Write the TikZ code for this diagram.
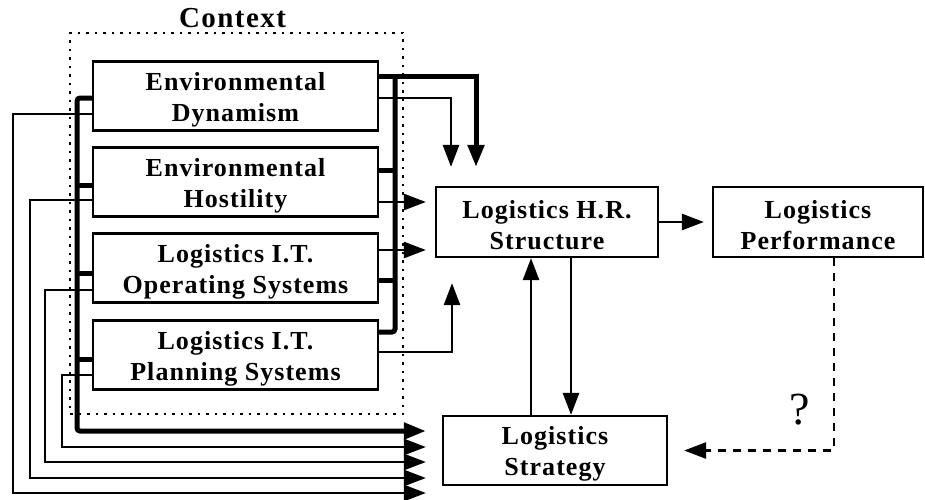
\documentclass[tikz,border=0pt]{standalone}
\usepackage{fontspec}
\setmainfont{Liberation Serif}
\newfontfamily\boxfont{Liberation Serif}[LetterSpace=4]
\newfontfamily\ctxfont{Liberation Serif}[LetterSpace=5]
\newcommand\tup{\rule{0pt}{25pt}}
\usetikzlibrary{arrows.meta}
\tikzset{
  box/.style={draw, line width=2.2pt, minimum width=285pt, minimum height=69pt, inner sep=0pt, align=center,
    font=\boxfont\bfseries\fontsize{26}{31}\selectfont},
  thinln/.style={line width=2.6pt},
  thickln/.style={line width=5pt},
  arr/.style={-{Triangle[length=22pt,width=16pt]}},
  ctxframe/.style={draw, line width=1.5pt, dash pattern=on 2.5pt off 6pt},
}
\begin{document}
\begin{tikzpicture}[x=1pt,y=-1pt]
\useasboundingbox (0,0) rectangle (925,499);
% context frame
\node[ctxframe, minimum width=333pt, minimum height=381pt, inner sep=0pt] (ctx) at (236.5,223.5) {};
\node[font=\ctxfont\bfseries\fontsize{29}{33}\selectfont, inner sep=0pt] (ctxlabel) at (232.5,18) {Context};
% boxes
\node[box] (b1) at (235.5,96) {\tup Environmental\\Dynamism};
\node[box] (b2) at (235.5,182) {\tup Environmental\\Hostility};
\node[box] (b3) at (235.5,268) {\tup Logistics I.T.\\Operating Systems};
\node[box] (b4) at (235.5,355) {\tup Logistics I.T.\\Planning Systems};
\node[box, minimum width=222pt, minimum height=70pt] (hr) at (547,222) {\tup Logistics H.R.\\Structure};
\node[box, minimum width=210pt, minimum height=70pt] (pf) at (818,222) {\tup Logistics\\Performance};
\node[box, minimum width=224pt, minimum height=69pt] (st) at (555,450.5) {\tup Logistics\\Strategy};
\node[font=\fontsize{46}{50}\selectfont] (q) at (800,410) {?};
% helper coordinates
\coordinate (L0) at (77,431);
\coordinate (L1) at (62,447);
\coordinate (L2) at (45,462);
\coordinate (L3) at (30,478);
\coordinate (L4) at (13,493);
\coordinate (R0) at (395,76);
\coordinate (hsd) at ([xshift=24pt]hr.south);
\coordinate (hsu) at ([xshift=-16pt]hr.south);
% left side: thick bus
\draw[thickln, arr, rounded corners=3pt, shorten >=16pt] ([yshift=-2pt]b1.west) -| (L0) -- (st.west |- L0);
\draw[thickln] ([yshift=-3pt]b2.west) -- ++(-16,0);
\draw[thickln] ([yshift=-5pt]b3.west) -- ++(-16,0);
\draw[thickln] ([yshift=-4pt]b4.west) -- ++(-16,0);
% left side: thin lines
\draw[thinln, arr, shorten >=16pt] ([yshift=-18pt]b1.west) -| (L4) -- (st.west |- L4);
\draw[thinln, arr, shorten >=16pt] ([yshift=-18pt]b2.west) -| (L3) -- (st.west |- L3);
\draw[thinln, arr, shorten >=16pt] ([yshift=-22pt]b3.west) -| (L2) -- (st.west |- L2);
\draw[thinln, arr, shorten >=16pt] ([yshift=-20pt]b4.west) -| (L1) -- (st.west |- L1);
% right side: thick bus
\draw[thickln, arr, shorten >=19pt] ([yshift=20pt]b1.east) -| ([xshift=-71pt]hr.north);
\draw[thickln, rounded corners=3pt] ([yshift=23pt]b4.east) -| (R0);
\draw[thickln] ([yshift=12pt]b2.east) -- ++(17,0);
\draw[thickln] ([yshift=-12pt]b3.east) -- ++(17,0);
% right side: thin arrows
\draw[thinln, arr, shorten >=19pt] ([yshift=-2pt]b1.east) -| ([xshift=-96pt]hr.north);
\draw[thinln, arr, shorten >=9pt] ([yshift=-20pt]b2.east) -- ([yshift=20pt]hr.west);
\draw[thinln, arr, shorten >=9pt] ([yshift=18pt]b3.east) -- ([yshift=-28pt]hr.west);
\draw[thinln, arr, shorten >=25pt] ([yshift=3pt]b4.east) -| ([xshift=-95pt]hr.south);
% central arrows
\draw[thinln, arr, shorten >=8pt] (hr.east) -- (pf.west);
\draw[thinln, arr] (hsd) -- (hsd |- st.north);
\draw[thinln, arr] (hsu |- st.north) -- (hsu);
\draw[thinln, arr, dash pattern=on 8pt off 7pt, shorten >=16pt] ([xshift=16pt]pf.south) |- (st.east);
\end{tikzpicture}
\end{document}
